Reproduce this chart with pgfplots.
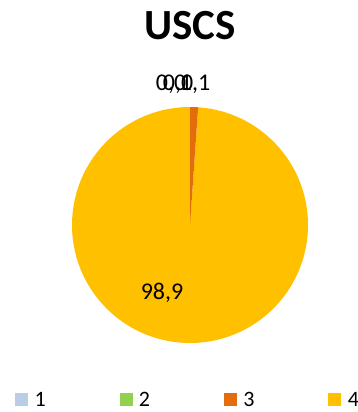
\documentclass[border=0pt]{standalone}
\usepackage{pgfplots}
\pgfplotsset{compat=1.18}
\usepackage{fontspec}
\setmainfont{Carlito}
\definecolor{c1}{RGB}{185,205,229}
\definecolor{c2}{RGB}{146,208,80}
\definecolor{c3}{RGB}{228,108,10}
\definecolor{c4}{RGB}{255,192,0}
\newcommand\pct[1]{\pgfmathprintnumber[fixed,fixed zerofill,precision=1,use comma,assume math mode=true]{#1}}
\begin{document}
\begin{tikzpicture}
\def\va{0.0}\def\vb{0.0}\def\vc{1.1}\def\vd{98.9}
\pgfmathsetmacro\aA{90}
\pgfmathsetmacro\aB{\aA-3.6*\va}
\pgfmathsetmacro\aC{\aB-3.6*\vb}
\pgfmathsetmacro\aD{\aC-3.6*\vc}
\pgfmathsetmacro\aE{\aD-3.6*\vd}
\begin{axis}[scale only axis, width=357pt, height=412pt,
  xmin=0, xmax=357, ymin=0, ymax=412, y dir=reverse, hide axis, clip=false,
  legend columns=4,
  legend style={at={(axis cs:15,400)}, anchor=west, draw=none, fill=none,
    font=\fontsize{22}{24}\selectfont, inner xsep=0pt, inner ysep=0pt,
    /tikz/every even column/.append style={column sep=0pt},
    /tikz/every odd column/.append style={column sep=0pt}},
  legend cell align=left,
  legend image code/.code={\fill[#1] (0pt,-5.5pt) rectangle (12pt,6.5pt);}]
\addlegendimage{c1}\addlegendentry{\makebox[88pt][l]{\hspace{5pt}1}}
\addlegendimage{c2}\addlegendentry{\makebox[88pt][l]{\hspace{5pt}2}}
\addlegendimage{c3}\addlegendentry{\makebox[88pt][l]{\hspace{5pt}3}}
\addlegendimage{c4}\addlegendentry{\hspace{5pt}4}
\fill[c4] (axis cs:190,225) -- ++(\aD:118pt) arc[start angle=\aD, end angle=\aE, radius=118pt] -- cycle;
\fill[c3] (axis cs:190,225) -- ++(\aC:118pt) arc[start angle=\aC, end angle=\aD, radius=118pt] -- cycle;
\node[font=\fontsize{24}{26}\selectfont] at (axis cs:162,293) {\pct{\vd}};
\node[font=\fontsize{24}{26}\selectfont] at (axis cs:171,84) {\pct{\va}};
\node[font=\fontsize{24}{26}\selectfont] at (axis cs:178,84) {\pct{\vb}};
\node[font=\fontsize{24}{26}\selectfont] at (axis cs:195,84) {\pct{\vc}};
\node[font=\fontsize{43}{46}\selectfont\bfseries] at (axis cs:190,26) {USCS};
\end{axis}
\pgfresetboundingbox
\useasboundingbox (0,0) rectangle (357pt,412pt);
\end{tikzpicture}
\end{document}
